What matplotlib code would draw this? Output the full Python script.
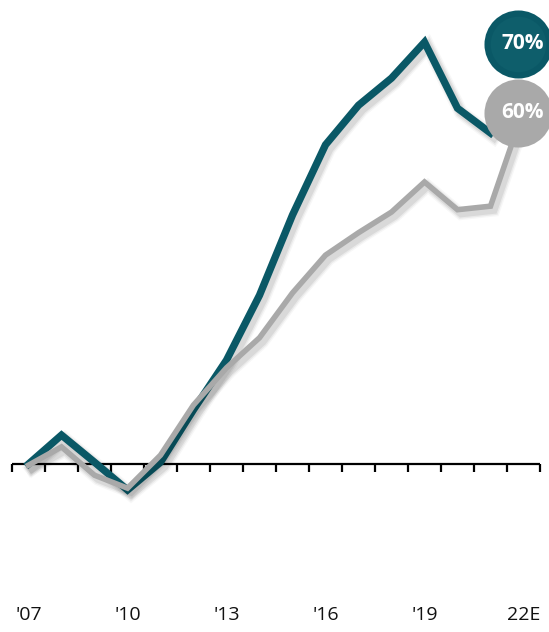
import numpy as np
import matplotlib.pyplot as plt
import matplotlib.patheffects as pe

years = np.arange(2007, 2023)
teal_vals = [0, 4.9, 0.3, -4.4, 0.3, 9.2, 17.6, 28.6, 42.2, 54.1, 60.8, 65.4, 71.5, 60.3, 56.1, 70]
gray_vals = [-0.2, 2.9, -1.9, -4.1, 1.5, 10.0, 16.3, 21.4, 29.0, 35.4, 39.2, 42.7, 47.8, 43.1, 43.7, 60]
tick_years = [2007, 2010, 2013, 2016, 2019, 2022]
tick_labels = ["'07", "'10", "'13", "'16", "'19", "22E"]
end_labels = ["70%", "60%"]

TEAL = "#0a5866"
TEAL_IN = "#0e5e6b"
GRAY = "#a9a9a9"

px = 5.9  # pixels per unit
fig = plt.figure(figsize=(5.49, 6.32), dpi=100)
ax = fig.add_axes([12 / 549, 0, 528 / 549, 1])
ax.set_xlim(2006.5, 2022.5)
ax.set_ylim(-168 / px, 464 / px)
ax.axis("off")

def shadow(lw):
    fx = []
    for extra, a in [(5, 0.03), (3, 0.05), (1, 0.07)]:
        fx.append(pe.SimpleLineShadow(offset=(2.5, -3), shadow_color="black",
                                      alpha=a, linewidth=lw + extra))
    fx.append(pe.Normal())
    return fx

# axis line and ticks between years
ax.plot([2006.5, 2022.5], [0, 0], color="black", lw=1.6, zorder=1,
        solid_capstyle="butt", clip_on=False)
for b in np.arange(2006.5, 2023, 1):
    ax.plot([b, b], [0, -8 / px], color="black", lw=1.6, zorder=1,
            solid_capstyle="butt", clip_on=False)

for y, t in zip(tick_years, tick_labels):
    ax.text(y, -151 / px, t, ha="center", va="center", fontsize=14,
            family="Open Sans", color="#111111")

# teal history stops at the last actual year, the estimate is the badge
ax.plot(years[:-1], teal_vals[:-1], color=TEAL, lw=5.3, zorder=2, solid_joinstyle="miter",
        path_effects=shadow(5.3))
ax.plot(years, gray_vals, color=GRAY, lw=4, zorder=3, solid_joinstyle="miter",
        path_effects=shadow(4))

# end badges, nudged left so they stay inside the figure
bx = years[-1] - 6 / 33
teal_y = teal_vals[-1] + 7 / px
gray_y = gray_vals[-1] - 3 / px
ax.scatter([bx], [teal_y], s=2400, color=TEAL, zorder=4, linewidths=0, clip_on=False)
ax.scatter([bx], [teal_y], s=1600, color=TEAL_IN, zorder=4, linewidths=0, clip_on=False)
ax.scatter([bx], [gray_y], s=2400, color=GRAY, zorder=5, linewidths=0, clip_on=False)
ax.text(bx + 5 / 33, teal_y, end_labels[0], ha="center", va="center", color="white",
        fontsize=15, fontweight="bold", family="Open Sans", zorder=6)
ax.text(bx + 5 / 33, gray_y, end_labels[1], ha="center", va="center", color="white",
        fontsize=15, fontweight="bold", family="Open Sans", zorder=6)

fig.savefig("out.png", dpi=100)
